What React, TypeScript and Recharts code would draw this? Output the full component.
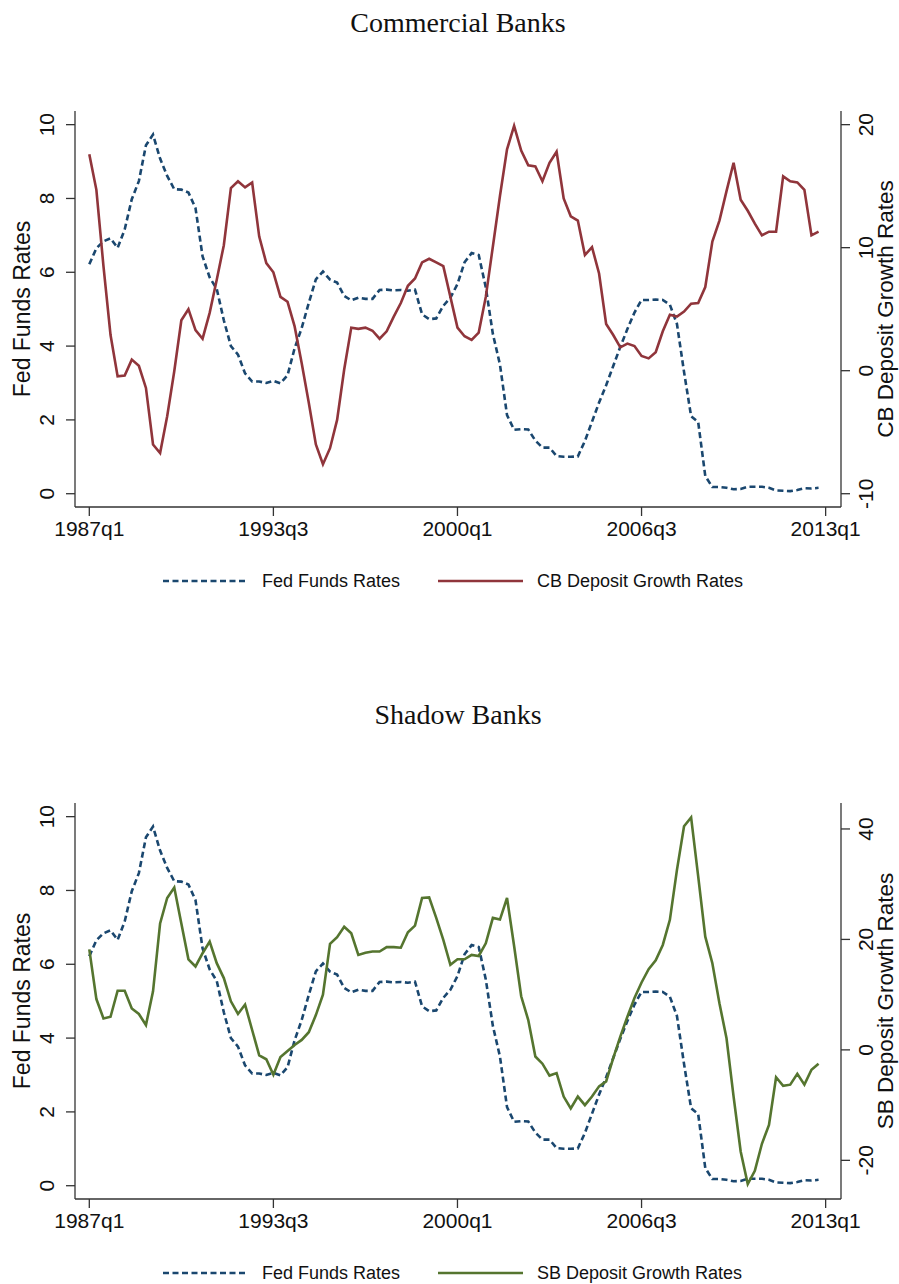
import { LineChart, Line, XAxis, YAxis } from "recharts";

/* ─── Data (quarterly, 1987q1 … 2012q4) ─────────────────────────────────── */
const fedFunds = [
  6.22, 6.65, 6.84, 6.92, 6.66, 7.16, 7.98, 8.47, 9.44, 9.73, 9.08, 8.61,
  8.25, 8.24, 8.16, 7.74, 6.43, 5.86, 5.55, 4.7, 4.0, 3.77, 3.26, 3.04,
  3.04, 3.0, 3.06, 2.99, 3.21, 3.94, 4.49, 5.17, 5.81, 6.02, 5.8, 5.72,
  5.36, 5.24, 5.31, 5.28, 5.28, 5.52, 5.53, 5.51, 5.52, 5.5, 5.53, 4.86,
  4.73, 4.75, 5.09, 5.31, 5.68, 6.27, 6.52, 6.47, 5.59, 4.33, 3.5, 2.13,
  1.73, 1.75, 1.74, 1.44, 1.25, 1.25, 1.02, 1.0, 1.0, 1.01, 1.43, 1.95,
  2.47, 2.94, 3.46, 3.98, 4.46, 4.91, 5.25, 5.25, 5.26, 5.25, 5.12, 4.6,
  3.3, 2.1, 1.94, 0.48, 0.18, 0.18, 0.16, 0.12, 0.13, 0.19, 0.19, 0.19,
  0.16, 0.09, 0.08, 0.07, 0.1, 0.15, 0.14, 0.16,
];

const cbGrowth = [
  17.6, 14.7, 8.5, 2.9, -0.46, -0.4, 0.9, 0.4, -1.4, -6.0, -6.7, -3.7,
  -0.05, 4.1, 5.0, 3.3, 2.6, 4.7, 7.4, 10.2, 14.85, 15.4, 14.9, 15.3,
  10.9, 8.75, 8.0, 6.0, 5.6, 3.6, 0.6, -2.6, -6.0, -7.6, -6.3, -4.0,
  0.1, 3.5, 3.4, 3.5, 3.25, 2.6, 3.2, 4.4, 5.5, 6.9, 7.5, 8.8,
  9.1, 8.8, 8.5, 6.0, 3.5, 2.8, 2.5, 3.1, 6.0, 10.1, 14.2, 18.0,
  19.9, 17.9, 16.7, 16.6, 15.4, 16.9, 17.8, 14.0, 12.55, 12.2, 9.4, 10.05,
  7.9, 3.8, 2.9, 1.9, 2.2, 2.0, 1.2, 1.0, 1.5, 3.2, 4.55, 4.4,
  4.8, 5.45, 5.5, 6.8, 10.5, 12.2, 14.6, 16.9, 13.9, 13.0, 11.95, 11.0,
  11.3, 11.3, 15.8, 15.4, 15.3, 14.7, 11.0, 11.3,
];

const sbGrowth = [
  18.2, 9.2, 5.7, 6.0, 10.7, 10.7, 7.5, 6.5, 4.5, 10.6, 22.9, 27.5,
  29.4, 22.9, 16.4, 15.1, 17.5, 19.6, 15.7, 13.0, 8.8, 6.5, 8.2, 3.6,
  -1.0, -1.7, -4.5, -1.3, -0.2, 0.9, 1.8, 3.2, 6.3, 10.0, 19.2, 20.4,
  22.3, 21.1, 17.2, 17.6, 17.8, 17.8, 18.6, 18.6, 18.5, 21.3, 22.5, 27.5,
  27.6, 23.9, 19.9, 15.4, 16.4, 16.4, 17.2, 17.0, 19.3, 23.9, 23.6, 27.5,
  18.8, 9.7, 5.4, -1.2, -2.5, -4.65, -4.2, -8.45, -10.6, -8.45, -10.0, -8.45,
  -6.6, -5.7, -1.5, 2.4, 6.0, 9.4, 12.2, 14.6, 16.2, 19.0, 23.55, 32.6,
  40.5, 42.1, 31.4, 20.5, 15.7, 8.45, 2.1, -8.45, -18.4, -24.3, -21.9, -17.0,
  -13.6, -4.95, -6.5, -6.3, -4.35, -6.3, -3.6, -2.5,
];

// x ticks: quarter offsets from 1987q1
const xTickPos = [0, 26, 52, 78, 104];
const xTickLabels = ["1987q1", "1993q3", "2000q1", "2006q3", "2013q1"];
const leftTicks = [0, 2, 4, 6, 8, 10];

/* ─── Styling ────────────────────────────────────────────────────────────── */
const SANS = "'Liberation Sans', Arial, sans-serif";
const SERIF = "'Liberation Serif', 'Times New Roman', serif";
const BLUE = "#1a476f";
const AXIS = "#333333";

const W = 899;
const H = 692;
const PLOT_L = 75;
const PLOT_R = 841;
const PLOT_T = 111;
const PLOT_B = 507;

function LeftTick({ y, payload }: any) {
  return (
    <text x={47} y={y} transform={`rotate(-90, 47, ${y})`} textAnchor="middle"
      dominantBaseline="central" fontFamily={SANS} fontSize={21} fill="#111">
      {payload.value}
    </text>
  );
}

function RightTick({ y, payload }: any) {
  return (
    <text x={866} y={y} transform={`rotate(-90, 866, ${y})`} textAnchor="middle"
      dominantBaseline="central" fontFamily={SANS} fontSize={21} fill="#111">
      {payload.value}
    </text>
  );
}

function BottomTick({ x, payload }: any) {
  const k = xTickPos.indexOf(payload.value);
  return (
    <text x={x} y={536} textAnchor="middle" fontFamily={SANS} fontSize={21} fill="#111">
      {xTickLabels[k]}
    </text>
  );
}

/* ─── One panel ──────────────────────────────────────────────────────────── */
function Panel({
  top, title, name, color, values, rightDomain, rightTicks,
}: {
  top: number; title: string; name: string; color: string; values: number[];
  rightDomain: [number, number]; rightTicks: number[];
}) {
  const data = values.map((v, i) => ({ q: i, fed: fedFunds[i], dep: v }));
  const midY = (PLOT_T + PLOT_B) / 2;
  return (
    <div style={{ position: "absolute", left: 0, top, width: W, height: H }}>
      <LineChart width={W} height={H} data={data}
        margin={{ top: PLOT_T, right: 0, bottom: H - PLOT_B - 60, left: PLOT_L - 60 }}>
        <XAxis dataKey="q" type="number" domain={[-2.02, 106.17]} ticks={xTickPos}
          height={60} tick={<BottomTick />} tickSize={9}
          axisLine={{ stroke: AXIS, strokeWidth: 1.3 }} tickLine={{ stroke: AXIS, strokeWidth: 1.3 }} />
        <YAxis yAxisId="left" orientation="left" width={60} domain={[-0.36, 10.37]}
          ticks={leftTicks} tick={<LeftTick />} tickSize={9}
          axisLine={{ stroke: AXIS, strokeWidth: 1.3 }} tickLine={{ stroke: AXIS, strokeWidth: 1.3 }} />
        <YAxis yAxisId="right" orientation="right" width={W - PLOT_R} domain={rightDomain}
          ticks={rightTicks} tick={<RightTick />} tickSize={9}
          axisLine={{ stroke: AXIS, strokeWidth: 1.3 }} tickLine={{ stroke: AXIS, strokeWidth: 1.3 }} />
        <Line yAxisId="left" dataKey="fed" name="Fed Funds Rates" type="linear" stroke={BLUE}
          strokeWidth={2.6} strokeDasharray="6 3.5" dot={false} isAnimationActive={false} />
        <Line yAxisId="right" dataKey="dep" name={name} type="linear" stroke={color}
          strokeWidth={2.6} dot={false} isAnimationActive={false} />
      </LineChart>

      {/* titles + legend */}
      <svg width={W} height={H} style={{ position: "absolute", left: 0, top: 0, pointerEvents: "none" }}>
        <text x={(PLOT_L + PLOT_R) / 2} y={32} textAnchor="middle" fontFamily={SERIF} fontSize={28} fill="#111">
          {title}
        </text>
        <text x={22} y={midY} transform={`rotate(-90, 22, ${midY})`} textAnchor="middle"
          dominantBaseline="central" fontFamily={SANS} fontSize={23} fill="#111">
          Fed Funds Rates
        </text>
        <text x={885} y={midY} transform={`rotate(-90, 885, ${midY})`} textAnchor="middle"
          dominantBaseline="central" fontFamily={SANS} fontSize={22.5} fill="#111">
          {name}
        </text>
        <line x1={163} x2={247} y1={581} y2={581} stroke={BLUE} strokeWidth={2.6} strokeDasharray="6 3.5" />
        <text x={262} y={587} fontFamily={SANS} fontSize={18} fill="#111">Fed Funds Rates</text>
        <line x1={438} x2={523} y1={581} y2={581} stroke={color} strokeWidth={2.6} />
        <text x={537} y={587} fontFamily={SANS} fontSize={18} fill="#111">{name}</text>
      </svg>
    </div>
  );
}

export default function App() {
  return (
    <div style={{ position: "absolute", left: 0, top: 0, width: W, height: 1284, background: "#fff" }}>
      <Panel top={0} title="Commercial Banks" name="CB Deposit Growth Rates" color="#90353b"
        values={cbGrowth} rightDomain={[-11.08, 21.11]} rightTicks={[-10, 0, 10, 20]} />
      <Panel top={692} title="Shadow Banks" name="SB Deposit Growth Rates" color="#55752f"
        values={sbGrowth} rightDomain={[-27, 44.7]} rightTicks={[-20, 0, 20, 40]} />
    </div>
  );
}
